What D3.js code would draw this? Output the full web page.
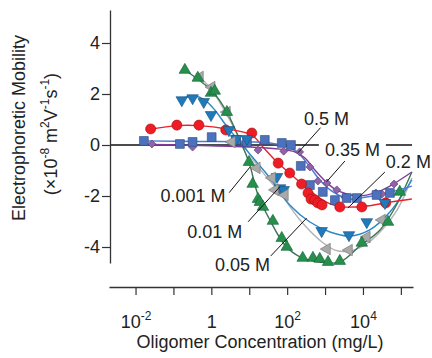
<!DOCTYPE html>
<html><head><meta charset="utf-8">
<script src="https://cdn.jsdelivr.net/npm/d3@7"></script>
<style>
html,body{margin:0;padding:0;background:#fff;}
svg{display:block;font-family:"Liberation Sans",Arial,Helvetica,sans-serif;}
</style></head>
<body>
<svg id="chart" width="432" height="358"></svg>
<script>
// ---------------- data (concentration mg/L, mobility 1e-8 m2/Vs) ----------------
const seriesNames = ["0.001 M","0.01 M","0.05 M","0.2 M","0.35 M","0.5 M"];

// measured points
const c001 = [0.50,1.02,2.57,3.47,15.8,40,48,87,1120,4270,12600,31600];
const m001 = [2.67,2.27,1.29,0.12,-0.90,-1.29,-1.76,-1.96,-4.08,-4.12,-3.61,-2.94];

const c01 = [0.166,0.32,0.63,0.98,2.9,4.5,8.7,54,65,81,813,4270,12600,38000];
const m01 = [1.76,1.84,1.69,1.18,0.59,0.24,0.24,-1.25,-1.69,-1.76,-3.37,-3.53,-3.02,-2.27];

const c05 = [0.20,0.44,0.98,1.23,2.57,9.8,12.3,17,19,23,42,72,98,257,479,724,1200,2450,9330,45700,93300];
const m05 = [2.94,2.63,2.04,2.12,1.29,-0.67,-1.53,-2.12,-2.24,-2.43,-2.98,-3.65,-4.00,-4.43,-4.43,-4.47,-4.59,-4.55,-3.84,-3.02,-1.84];

const c2 = [0.025,0.123,0.47,2.4,11.7,58,117,240,355,427,537,646,832,2450,9330,39800];
const m2 = [0.63,0.78,0.78,0.59,0.47,-0.71,-1.10,-1.53,-1.88,-2.12,-2.16,-2.27,-2.35,-2.43,-2.43,-2.27];

const c35 = [0.0166,0.148,0.32,1.02,4.5,8.7,25.7,72,126,229,398,871,1820,3720,6920,22900,51300];
const m35 = [0.16,0.04,0.12,0.31,0.20,0.12,0.20,0.08,0.0,-0.82,-1.57,-1.84,-2.16,-2.08,-2.08,-1.96,-1.88];

const c5 = [0.027,0.32,17,81,214,398,646,1120,2040,3310,21900,31600,66100];
const m5 = [0.04,-0.08,-0.20,-0.24,-0.27,-0.86,-1.41,-1.49,-1.76,-2.04,-1.88,-1.92,-1.53];

// fitted curves
const fc001 = [0.39,1.02,2.57,5.6,15.8,65,219,724,1820,4470,11200,31600,79400,195000];
const fm001 = [2.82,2.16,1.18,0.27,-0.78,-1.88,-2.94,-3.73,-4.12,-4.16,-3.92,-3.33,-2.55,-1.29];

const fc01 = [0.178,0.36,0.68,1.23,2.75,5.6,14.1,35,117,398,1350,4470,15100,51300,195000];
const fm01 = [1.84,1.92,1.76,1.37,0.67,0.12,-0.59,-1.29,-2.35,-3.02,-3.41,-3.57,-3.33,-2.63,-1.37];

const fc05 = [0.20,1.1,2.57,5.6,9.8,17,35,87,219,724,2450,8300,28200,69200,195000];
const fm05 = [2.94,2.08,1.29,0.20,-0.67,-1.96,-2.94,-3.92,-4.39,-4.59,-4.59,-3.96,-3.33,-2.47,-1.06];

const fc2 = [0.025,0.123,0.47,2.57,11.7,23,54,132,331,724,1620,2950,12600,51300,195000];
const fm2 = [0.62,0.76,0.76,0.63,0.39,-0.08,-0.67,-1.18,-1.69,-2.08,-2.35,-2.43,-2.39,-2.24,-2.12];

const fc35 = [0.0166,0.50,10.5,35,87,182,398,724,1620,4470,12600,42700,195000];
const fm35 = [0.16,0.14,0.12,0.08,-0.04,-0.27,-0.86,-1.37,-1.84,-2.12,-2.04,-1.88,-1.61];

const fc5 = [0.027,0.50,10.5,65,158,295,537,1000,1820,3720,8300,20400,51300,195000];
const fm5 = [0.02,-0.02,-0.08,-0.16,-0.27,-0.51,-0.98,-1.41,-1.73,-1.92,-2.00,-1.88,-1.61,-1.06];

// label anchors (data space): text start, leader start, leader end
const labelC  = [0.0457,0.23,1.24,40200,989,277];
const labelM  = [-2.22,-3.65,-4.96,-0.90,-0.43,0.78];
const leadC1  = [2.95,9.35,37,37800,3330,760];
const leadM1  = [-1.87,-3.01,-4.35,-1.06,-0.63,0.68];
const leadC2  = [10.4,64,325,4000,1100,195];
const leadM2  = [-0.87,-1.64,-2.87,-2.47,-1.44,-0.30];

// axis ticks
const xTicks = [1e-2,1e-1,1,10,1e2,1e3,1e4,1e5];
const xTickBase = ["10","","1","","10","","10",""];
const xTickExp  = ["-2","","","","2","","4",""];
const yTicks = [4,2,0,-2,-4];
const yTickLabels = ["4","2","0","-2","-4"];

// ---------------- drawing ----------------
const svg = d3.select("#chart");
const x = d3.scaleLog().domain([Math.pow(10,-2.70), Math.pow(10,5.32)]).range([109,413]);
const y = d3.scaleLinear().domain([-4.627, 5.294]).range([263,10]);

const styles = [
  {fill:"#a9a9a9", stroke:"#707070", line:"#b4b4b4", sym:d3.symbolTriangle, rot:-90, size:58},
  {fill:"#2079ba", stroke:"#145080", line:"#2a88c8", sym:d3.symbolTriangle, rot:180, size:58},
  {fill:"#24904c", stroke:"#16603a", line:"#3d7556", sym:d3.symbolTriangle, rot:0, size:58},
  {fill:"#ee1c25", stroke:"#a01015", line:"#ea2229", sym:d3.symbolCircle, rot:0, size:80},
  {fill:"#4d72bd", stroke:"#2c4a87", line:"#4a7bcf", sym:d3.symbolSquare, rot:0, size:78},
  {fill:"#9262a8", stroke:"#5d3a70", line:"#7d3c98", sym:d3.symbolSquare, rot:45, size:32}
];
const pts = [[c001,m001],[c01,m01],[c05,m05],[c2,m2],[c35,m35],[c5,m5]];
const fits = [[fc001,fm001],[fc01,fm01],[fc05,fm05],[fc2,fm2],[fc35,fm35],[fc5,fm5]];

// zero line
svg.append("line").attr("x1", x.range()[0]+1).attr("x2", 412)
  .attr("y1", y(0)).attr("y2", y(0)).attr("stroke","#111").attr("stroke-width",1.3);

// y axis
const yAx = svg.append("g").attr("transform","translate(110,0)")
  .call(d3.axisLeft(y).tickValues(yTicks).tickSize(8).tickSizeOuter(0).tickPadding(2)
    .tickFormat((d,i)=>yTickLabels[i]));
yAx.select(".domain").attr("stroke","#333").attr("stroke-width",1.3);
yAx.selectAll(".tick line").attr("stroke","#333").attr("stroke-width",1.2);
yAx.selectAll(".tick text").attr("font-size",18).attr("fill","#222")
  .attr("font-family","Liberation Sans, Arial, sans-serif");

// x axis
const xAx = svg.append("g").attr("transform","translate(0,287)")
  .call(d3.axisBottom(x).tickValues(xTicks).tickSize(8).tickSizeOuter(0).tickFormat(""));
xAx.select(".domain").attr("stroke","#333").attr("stroke-width",1.3);
xAx.selectAll(".tick line").attr("stroke","#333").attr("stroke-width",1.2);
xAx.selectAll(".tick").each(function(d,i){
  if(!xTickBase[i]) return;
  const t = d3.select(this).append("text").attr("y",41).attr("text-anchor","middle")
    .attr("font-size",18).attr("fill","#222").attr("font-family","Liberation Sans, Arial, sans-serif");
  t.append("tspan").text(xTickBase[i]);
  if(xTickExp[i]) t.append("tspan").attr("dy",-8).attr("font-size",12).text(xTickExp[i]);
});

// axis titles
svg.append("text").attr("x",260).attr("y",348).attr("text-anchor","middle")
  .attr("font-size",18).attr("fill","#222").text("Oligomer Concentration (mg/L)");
svg.append("text").attr("transform","translate(25,128) rotate(-90)").attr("text-anchor","middle")
  .attr("font-size",18).attr("fill","#222").text("Electrophoretic Mobility");
const yl2 = svg.append("text").attr("transform","translate(57,134) rotate(-90)").attr("text-anchor","middle")
  .attr("font-size",18).attr("fill","#222");
[["(×10",0],["-8",1],[" m",0],["2",1],["V",0],["-1",1],["s",0],["-1",1],[")",0]].forEach((p,i,arr)=>{
  const prevSup = i>0 && arr[i-1][1]===1;
  const ts = yl2.append("tspan").text(p[0]);
  if(p[1]===1){ ts.attr("font-size",12).attr("dy", prevSup? 0 : -8); }
  else if(prevSup){ ts.attr("dy",8); }
});

// fitted lines
const lineGen = d3.line().x(d=>x(d[0])).y(d=>y(d[1])).curve(d3.curveCatmullRom.alpha(0.5));
fits.forEach((f,i)=>{
  svg.append("path").datum(f[0].map((c,k)=>[c,f[1][k]]))
    .attr("d",lineGen).attr("fill","none").attr("stroke",styles[i].line).attr("stroke-width",1.4);
});

// markers
const order = [5,4,3,1,0,2];
order.forEach(i=>{
  const s = styles[i];
  const data = pts[i][0].map((c,k)=>[c,pts[i][1][k]]);
  svg.append("g").selectAll("path").data(data).join("path")
    .attr("d", d3.symbol().type(s.sym).size(s.size))
    .attr("transform", d=>`translate(${x(d[0])},${y(d[1])}) rotate(${s.rot})`)
    .attr("fill", s.fill).attr("stroke", s.stroke).attr("stroke-width",0.6);
});

// labels with leaders
seriesNames.forEach((name,i)=>{
  svg.append("line").attr("x1",x(leadC1[i])).attr("y1",y(leadM1[i]))
    .attr("x2",x(leadC2[i])).attr("y2",y(leadM2[i])).attr("stroke","#111").attr("stroke-width",1);
  const t = svg.append("text").attr("x",x(labelC[i])).attr("y",y(labelM[i]))
    .attr("font-size",18).attr("fill","#222").text(name);
  if(name==="0.35 M"){
    const bb = t.node().getBBox();
    svg.append("rect").attr("x",bb.x-6).attr("y",bb.y).attr("width",bb.width+12)
      .attr("height",bb.height).attr("fill","#fff");
    t.raise();
  }
});
</script>
</body></html>
